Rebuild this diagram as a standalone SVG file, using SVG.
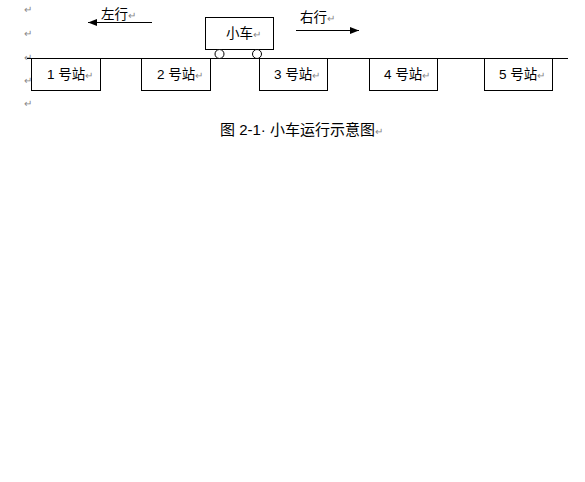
<svg xmlns="http://www.w3.org/2000/svg" width="585" height="482" viewBox="0 0 585 482">
<style>
.box{fill:#fff;stroke:#000;stroke-width:1}
.t{font-family:"Liberation Sans","Noto Sans CJK SC",sans-serif;font-size:13.5px;fill:#000}
.pm{font-family:"Liberation Sans","Noto Sans CJK SC",sans-serif;font-size:10px;fill:#888}
.ln{stroke:#000;stroke-width:1;fill:none}
</style>
<defs>
<marker id="ah" markerWidth="9" markerHeight="7" refX="9" refY="3.5" orient="auto" markerUnits="userSpaceOnUse">
<path d="M0,0 L9,3.5 L0,7 Z" fill="#000"/>
</marker>
</defs>
<rect width="585" height="482" fill="#fff"/>
<g id="marks">
<text class="pm" x="24" y="13">↵</text>
<text class="pm" x="24" y="37">↵</text>
<text class="pm" x="24" y="61">↵</text>
<text class="pm" x="24" y="84">↵</text>
<text class="pm" x="24" y="107">↵</text>
</g>
<g id="connectors">
<line class="ln" x1="27" y1="58.5" x2="568" y2="58.5"/>
<line class="ln" x1="152" y1="22.5" x2="88" y2="22.5" stroke="#444" marker-end="url(#ah)"/>
<line class="ln" x1="296" y1="30.5" x2="359" y2="30.5" marker-end="url(#ah)"/>
</g>
<g id="left-label"><text class="t" x="101" y="19">左行<tspan class="pm">↵</tspan></text></g>
<g id="right-label"><text class="t" x="300" y="22">右行<tspan class="pm">↵</tspan></text></g>
<g id="car">
<rect class="box" x="205.5" y="17.5" width="68" height="32"/>
<text class="t" x="226" y="38">小车<tspan class="pm">↵</tspan></text>
<circle cx="219.5" cy="54" r="4.5" fill="#fff" stroke="#000"/>
<circle cx="257" cy="54" r="4.5" fill="#fff" stroke="#000"/>
</g>
<g id="station1"><rect class="box" x="31.5" y="58.5" width="69" height="32"/><text class="t" x="47" y="79">1 号站<tspan class="pm">↵</tspan></text></g>
<g id="station2"><rect class="box" x="141.5" y="58.5" width="69" height="32"/><text class="t" x="157" y="79">2 号站<tspan class="pm">↵</tspan></text></g>
<g id="station3"><rect class="box" x="259.5" y="58.5" width="68" height="32"/><text class="t" x="274" y="79">3 号站<tspan class="pm">↵</tspan></text></g>
<g id="station4"><rect class="box" x="369.5" y="58.5" width="68" height="32"/><text class="t" x="384" y="79">4 号站<tspan class="pm">↵</tspan></text></g>
<g id="station5"><rect class="box" x="484.5" y="58.5" width="68" height="32"/><text class="t" x="499" y="79">5 号站<tspan class="pm">↵</tspan></text></g>
<g id="caption"><text class="t" x="220" y="135" style="font-size:15px">图 2-1· 小车运行示意图<tspan class="pm">↵</tspan></text></g>
</svg>
